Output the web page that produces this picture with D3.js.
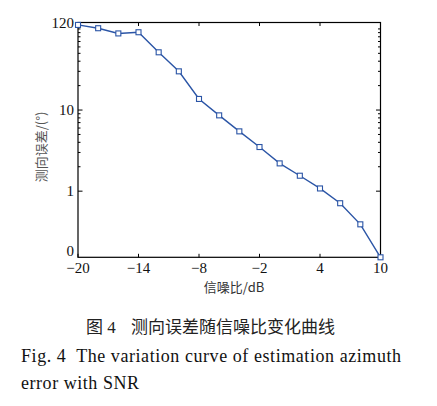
<!DOCTYPE html>
<html>
<head>
<meta charset="utf-8">
<script src="https://cdn.jsdelivr.net/npm/d3@7"></script>
<style>
  body { margin: 0; background: #fff; }
  svg { display: block; }
  text { white-space: pre; }
</style>
</head>
<body>
<div id="canvas"></div>
<script>
// SNR (dB) and azimuth error (deg)
const snr = [-20, -18, -16, -14, -12, -10, -8, -6, -4, -2, 0, 2, 4, 6, 8, 10];
const azErr = [112, 102, 88, 91, 51.5, 30, 13.7, 8.6, 5.46, 3.5, 2.2, 1.55, 1.08, 0.71, 0.39, 0];

const xTicks = [-20, -14, -8, -2, 4, 10];
const yTickVals = [0.153, 1, 10, 120];
const yTickLabels = ["0", "1", "10", "120"];
const yMinor = [2, 3, 4, 5, 6, 7, 8, 9, 20, 30, 40, 50, 60, 70, 80, 90, 100];

const width = 437, height = 406;
const pLeft = 78, pRight = 380.5, pTop = 22.5, pBottom = 257.3;
const blue = "#2b55a6";

const svg = d3.select("#canvas").append("svg")
  .attr("width", width).attr("height", height);

const x = d3.scaleLinear().domain([-20, 10]).range([pLeft, pRight]);
const y = d3.scaleLog().domain([0.153, 120]).range([pBottom, pTop]).clamp(true);

const serif = "'Liberation Serif', 'DejaVu Serif', serif";
const cjk = "'Noto Sans CJK SC', sans-serif";

// frame
svg.append("rect")
  .attr("x", pLeft).attr("y", pTop)
  .attr("width", pRight - pLeft).attr("height", pBottom - pTop)
  .attr("fill", "none").attr("stroke", "#000").attr("stroke-width", 1.2);

// x ticks, bottom and top, pointing inward
const xt = svg.append("g");
xTicks.forEach(v => {
  xt.append("line").attr("x1", x(v)).attr("x2", x(v))
    .attr("y1", pBottom).attr("y2", pBottom - 3.5).attr("stroke", "#000");
  xt.append("line").attr("x1", x(v)).attr("x2", x(v))
    .attr("y1", pTop).attr("y2", pTop + 3.5).attr("stroke", "#000");
  xt.append("text").attr("x", x(v)).attr("y", 272.6)
    .attr("text-anchor", "middle")
    .attr("font-family", serif).attr("font-size", 15).attr("fill", "#111")
    .text(v < 0 ? "\u2212" + Math.abs(v) : v);
});

// y ticks, left and right
const yt = svg.append("g");
yTickVals.forEach((v, i) => {
  if (i > 0 && i < yTickVals.length - 1) {
    yt.append("line").attr("x1", pLeft).attr("x2", pLeft + 4.5)
      .attr("y1", y(v)).attr("y2", y(v)).attr("stroke", "#000");
    yt.append("line").attr("x1", pRight).attr("x2", pRight - 4.5)
      .attr("y1", y(v)).attr("y2", y(v)).attr("stroke", "#000");
  }
  yt.append("text").attr("x", 74).attr("y", Math.min(y(v) + 5, pBottom - 1.6))
    .attr("text-anchor", "end")
    .attr("font-family", serif).attr("font-size", 15).attr("fill", "#111")
    .text(yTickLabels[i]);
});
yMinor.forEach(v => {
  yt.append("line").attr("x1", pLeft).attr("x2", pLeft + 2.5)
    .attr("y1", y(v)).attr("y2", y(v)).attr("stroke", "#000");
  yt.append("line").attr("x1", pRight).attr("x2", pRight - 2.5)
    .attr("y1", y(v)).attr("y2", y(v)).attr("stroke", "#000");
});

// curve
const pts = snr.map((s, i) => [s, azErr[i]]);
svg.append("path")
  .datum(pts)
  .attr("fill", "none").attr("stroke", blue).attr("stroke-width", 1.4)
  .attr("d", d3.line().x(d => x(d[0])).y(d => y(d[1])));

svg.selectAll(".mk").data(pts).enter().append("rect")
  .attr("class", "mk")
  .attr("x", d => x(d[0]) - 2.5).attr("y", d => y(d[1]) - 2.5)
  .attr("width", 5).attr("height", 5)
  .attr("fill", "#fff").attr("stroke", blue).attr("stroke-width", 1.1);

// axis titles
svg.append("text")
  .attr("transform", "translate(46,147) rotate(-90)")
  .attr("text-anchor", "middle")
  .attr("font-family", cjk).attr("font-size", 13).attr("fill", "#555")
  .text("测向误差/(°)");

svg.append("text").attr("x", 234).attr("y", 291.8)
  .attr("text-anchor", "middle")
  .attr("font-family", cjk).attr("font-size", 13).attr("fill", "#333")
  .text("信噪比/dB");

// caption
const cap = svg.append("text").attr("y", 333)
  .attr("font-family", cjk).attr("font-size", 17).attr("fill", "#222");
cap.append("tspan").attr("x", 86).text("图");
cap.append("tspan").attr("font-family", serif).text(" 4");
cap.append("tspan").attr("x", 131).text("测向误差随信噪比变化曲线");

svg.append("text").attr("x", 21).attr("y", 362)
  .attr("font-family", serif).attr("font-size", 18).attr("fill", "#111")
  .attr("textLength", 380).attr("lengthAdjust", "spacing")
  .text("Fig. 4  The variation curve of estimation azimuth");

svg.append("text").attr("x", 21).attr("y", 389)
  .attr("font-family", serif).attr("font-size", 18).attr("fill", "#111")
  .attr("textLength", 118).attr("lengthAdjust", "spacing")
  .text("error with SNR");
</script>
</body>
</html>
